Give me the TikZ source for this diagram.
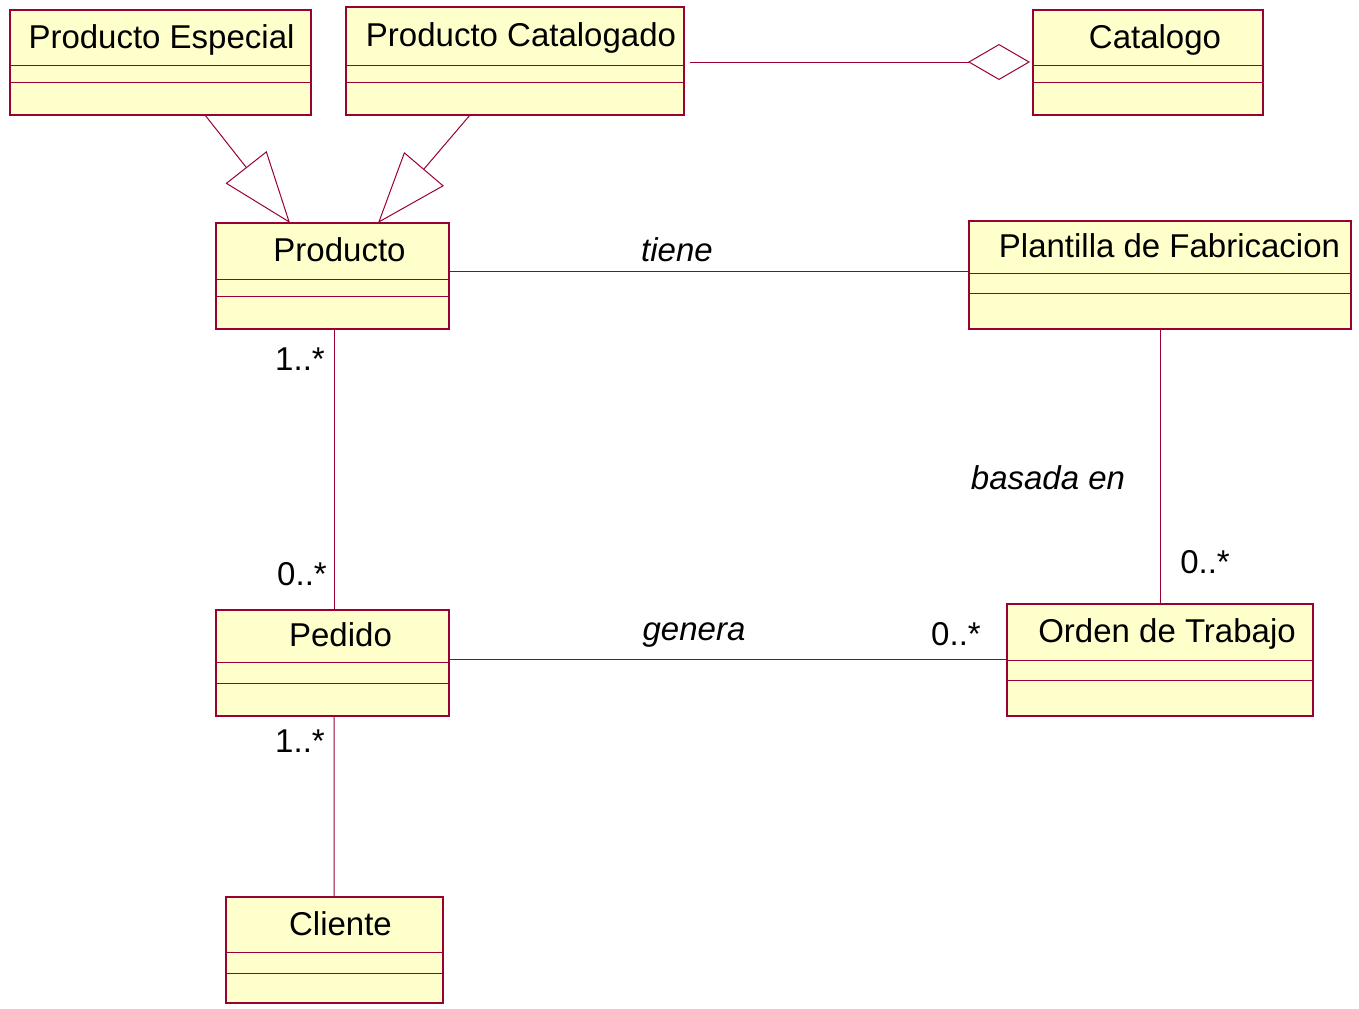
\documentclass[tikz,border=0pt]{standalone}
\usepackage{fontspec}
\setmainfont{Liberation Sans}
\usetikzlibrary{arrows.meta,calc}
\definecolor{umlborder}{RGB}{153,0,51}
\definecolor{umlfill}{RGB}{255,255,204}

\tikzset{
  classbox/.style={draw=umlborder, fill=umlfill, line width=1.2bp,
    inner sep=0pt, outer sep=0pt, rectangle},
  divider/.style={draw=umlborder, line width=1bp},
  classname/.style={font=\fontsize{33bp}{40bp}\selectfont, inner sep=0pt, anchor=base},
  assoc/.style={draw=umlborder, line width=1bp},
  assoclabel/.style={font=\fontsize{33bp}{40bp}\selectfont\itshape, inner sep=0pt, anchor=base},
  mult/.style={font=\fontsize{33bp}{40bp}\selectfont, inner sep=0pt, anchor=base},
  generalization/.style={assoc, -{Triangle[open, length=71bp, width=52bp, line width=1bp]}},
  aggregation/.style={assoc, -{Diamond[open, length=62bp, width=36bp, line width=1bp]}}
}

% [#1 name shift] #2 name, #3 left, #4 top, #5 right, #6 bottom,
% #7 first divider, #8 second divider, #9 title
\newcommand\umlclass[9][7]{%
  \node[classbox, minimum width={(#5-#3)*1bp}, minimum height={(#6-#4)*1bp}]
    (#2) at ({(#3+#5)/2},{(#4+#6)/2}) {};
  \draw[divider] (#3,#7) -- (#5,#7) (#3,#8) -- (#5,#8);
  \node[classname] (#2-name) at ({(#3+#5)/2+#1},{(#4+#7)/2+10.5}) {#9};
}

\begin{document}
\begin{tikzpicture}[x=1bp, y=-1bp]
  \useasboundingbox (0,0) rectangle (1359,1008);

  % classes
  \umlclass[1]{pesp}{10}{10}{311}{115}{65}{82}{Producto Especial}
  \umlclass[6]{pcat}{346}{7}{684}{115}{65}{82}{Producto Catalogado}
  \umlclass{cat}{1033}{10}{1263}{115}{65}{82}{Catalogo}
  \umlclass{prod}{216}{223}{449}{329}{279}{296}{Producto}
  \umlclass[9.5]{plan}{969}{221}{1351}{329}{273}{293}{Plantilla de Fabricacion}
  \umlclass[8]{ped}{216}{610}{449}{716}{662}{683}{Pedido}
  \umlclass{ord}{1007}{604}{1313}{716}{660}{680}{Orden de Trabajo}
  \umlclass[6]{cli}{226}{897}{443}{1003}{952}{973}{Cliente}

  % generalizations
  \draw[generalization] ($(pesp.south)+(44.5,0)$) -- ($(prod.north)+(-42.5,0)$);
  \draw[generalization] ($(pcat.south)+(-45,0)$) -- ($(prod.north)+(45.5,0)$);

  % aggregation
  \draw[aggregation] ($(pcat.east)+(6,1)$) -- ($(cat.west)+(-3,-0.5)$);

  % associations
  \draw[assoc] ($(prod.east)+(0,-5)$) -- ($(plan.west)+(0,-4)$);
  \node[assoclabel] (tiene) at (677,261) {tiene};

  \draw[assoc] ($(prod.south)+(1.5,0)$) -- ($(ped.north)+(1.5,0)$);
  \node[mult] (m1) at (300,370) {1..*};
  \node[mult] (m2) at (302,585) {0..*};

  \draw[assoc] ($(ped.south)+(1.5,0)$) -- ($(cli.north)+(-0.5,0)$);
  \node[mult] (m3) at (300,752) {1..*};

  \draw[assoc] ($(ped.east)+(0,-4)$) -- ($(ord.west)+(0,-1)$);
  \node[assoclabel] (genera) at (694,640) {genera};
  \node[mult] (m4) at (956,645) {0..*};

  \draw[assoc] (plan.south) -- (ord.north);
  \node[assoclabel] (basada) at (1048,489) {basada en};
  \node[mult] (m5) at (1205,573) {0..*};
\end{tikzpicture}
\end{document}
